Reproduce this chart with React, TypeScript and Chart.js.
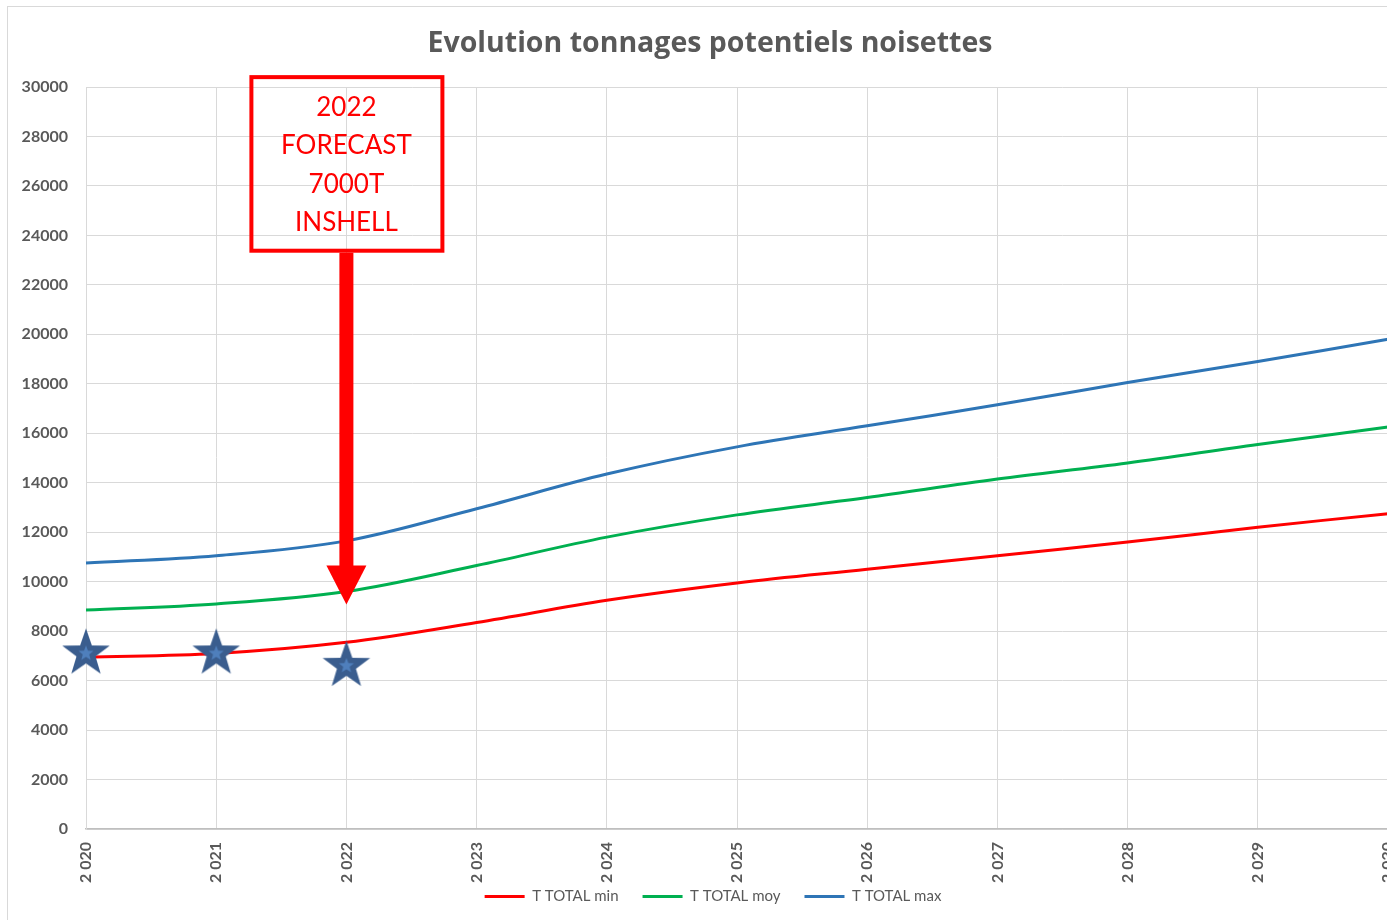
import React, { useEffect, useRef } from 'react';
import { Chart, registerables } from 'chart.js';

Chart.register(...registerables);

const years = ['2020', '2021', '2022', '2023', '2024', '2025', '2026', '2027', '2028', '2029', '2030'];
const totalMin = [6950, 7100, 7550, 8350, 9250, 9950, 10500, 11050, 11600, 12200, 12750];
const totalMoy = [8850, 9100, 9600, 10650, 11800, 12700, 13400, 14150, 14800, 15550, 16250];
const totalMax = [10750, 11050, 11650, 12950, 14350, 15450, 16300, 17150, 18050, 18900, 19800];
const actuals = [7100, 7100, 6600, null, null, null, null, null, null, null, null];
const seriesLabels = ['T TOTAL min', 'T TOTAL moy', 'T TOTAL max'];
const seriesColors = ['#FF0000', '#00B050', '#2E75B6'];
const chartTitle = 'Evolution tonnages potentiels noisettes';
const noteLines = ['2022', 'FORECAST', '7000T', 'INSHELL'];
const noteYear = 2; // index of the annotated category
const noteBoxTop = 30480;
const noteBoxBottom = 23300;
const arrowTip = 9080;

const GRAY = '#595959';

function makeStar(): HTMLCanvasElement {
  const R = 25;
  const size = 2 * R + 4;
  const c = document.createElement('canvas');
  c.width = size;
  c.height = size;
  const ctx = c.getContext('2d')!;
  const cx = size / 2;
  const cy = size / 2;
  const draw = (r: number, ri: number, color: string) => {
    ctx.beginPath();
    for (let i = 0; i < 10; i++) {
      const rad = i % 2 === 0 ? r : ri;
      const a = -Math.PI / 2 + (i * Math.PI) / 5;
      const x = cx + rad * Math.cos(a);
      const y = cy + rad * Math.sin(a);
      if (i === 0) ctx.moveTo(x, y);
      else ctx.lineTo(x, y);
    }
    ctx.closePath();
    ctx.fillStyle = color;
    ctx.fill();
  };
  draw(R, R * 0.4, '#3A5D8E');
  draw(8, 3.4, '#4F7FBC');
  return c;
}

const layoutPlugin = {
  id: 'layoutPlugin',
  afterLayout(chart: any) {
    // widen the label clip areas so rotated / long tick labels are not cut
    chart.scales.y.left = 0;
    chart.scales.x.bottom = chart.scales.x.top + 70;
    if (chart.legend) {
      chart.legend.left += 3;
      chart.legend.right += 3;
      chart.legend.top += 2;
      chart.legend.bottom += 2;
    }
  },
};

const notePlugin = {
  id: 'notePlugin',
  afterDatasetsDraw(chart: any) {
    const { ctx, scales } = chart;
    const x = scales.x.getPixelForValue(noteYear);
    const top = scales.y.getPixelForValue(noteBoxTop);
    const bottom = scales.y.getPixelForValue(noteBoxBottom);
    const tip = scales.y.getPixelForValue(arrowTip);
    ctx.save();
    ctx.strokeStyle = '#FF0000';
    ctx.lineWidth = 4;
    ctx.strokeRect(x - 95, top + 2, 191, bottom - top - 4);
    ctx.fillStyle = '#FF0000';
    ctx.font = '26px Lato';
    ctx.textAlign = 'center';
    ctx.textBaseline = 'middle';
    const mid = (top + bottom) / 2 + 1;
    const step = 38.5;
    noteLines.forEach((t, i) => {
      ctx.fillText(t, x, mid + (i - (noteLines.length - 1) / 2) * step);
    });
    const headH = 39;
    ctx.fillRect(x - 7, bottom, 14, tip - headH - bottom + 1);
    ctx.beginPath();
    ctx.moveTo(x - 20, tip - headH);
    ctx.lineTo(x + 20, tip - headH);
    ctx.lineTo(x, tip);
    ctx.closePath();
    ctx.fill();
    ctx.restore();
  },
};

export default function App() {
  const ref = useRef<HTMLCanvasElement | null>(null);

  useEffect(() => {
    if (!ref.current) return;
    const star = makeStar();
    const lineSeries = [totalMin, totalMoy, totalMax].map((d, i) => ({
      label: seriesLabels[i],
      data: d,
      borderColor: seriesColors[i],
      backgroundColor: seriesColors[i],
      borderWidth: 3,
      pointRadius: 0,
      tension: 0.35,
      fill: false,
      order: 1,
    }));
    const chart = new Chart(ref.current, {
      type: 'line',
      data: {
        labels: years,
        datasets: [
          ...lineSeries,
          {
            label: 'Réel',
            data: actuals,
            showLine: false,
            pointStyle: star as any,
            pointRadius: 25,
            borderColor: '#3A5D8E',
            backgroundColor: '#3A5D8E',
            order: 0,
          } as any,
        ],
      },
      options: {
        animation: false,
        responsive: false,
        devicePixelRatio: 1,
        layout: { autoPadding: false, padding: { left: 24, right: 12, top: 0, bottom: 15 } },
        plugins: {
          title: {
            display: true,
            text: chartTitle,
            color: GRAY,
            font: { family: 'Open Sans', size: 28.5, weight: 'bold' },
            padding: { top: 20, bottom: 25.8 },
          },
          legend: {
            position: 'bottom',
            labels: {
              color: GRAY,
              font: { family: 'Lato', size: 15 },
              boxWidth: 40,
              boxHeight: 3,
              padding: 24,
              filter: (item: any) => item.datasetIndex < 3,
              generateLabels: (c: any) =>
                Chart.defaults.plugins.legend.labels.generateLabels(c).map((l: any) => ({
                  ...l,
                  lineWidth: 0,
                  fillStyle: seriesColors[l.datasetIndex] || l.fillStyle,
                })),
            },
          },
          tooltip: { enabled: false },
        },
        scales: {
          x: {
            offset: false,
            grid: { color: '#D9D9D9', drawTicks: false, lineWidth: 1 },
            border: { color: '#BFBFBF', width: 1.5 },
            ticks: {
              color: GRAY,
              font: { family: 'Lato', size: 16, weight: 'bold' },
              minRotation: 90,
              maxRotation: 90,
              padding: 13,
              autoSkip: false,
              callback: (_v: any, i: number) => `${years[i][0]} ${years[i].slice(1)}`,
            },
            afterFit: (s: any) => {
              s.height = 34;
              s.paddingLeft = 0;
              s.paddingRight = 0;
            },
          },
          y: {
            min: 0,
            max: 30000,
            grid: { color: '#D9D9D9', drawTicks: false, lineWidth: 1 },
            border: { color: '#D9D9D9' },
            ticks: {
              stepSize: 2000,
              color: GRAY,
              font: { family: 'Lato', size: 16, weight: 'bold' },
              padding: 18,
              callback: (v: any) => String(v),
            },
            afterFit: (s: any) => {
              s.width = 54;
            },
          },
        },
      },
      plugins: [layoutPlugin, notePlugin],
    });
    return () => chart.destroy();
  }, []);

  return (
    <div
      style={{
        position: 'absolute',
        left: 0,
        top: 0,
        width: 1387,
        height: 920,
        overflow: 'hidden',
        background: '#fff',
      }}
    >
      <div
        style={{
          position: 'absolute',
          left: 7,
          top: 6,
          width: 1392,
          height: 920,
          border: '1px solid #D9D9D9',
        }}
      >
        <canvas ref={ref} width={1392} height={920} style={{ display: 'block' }} />
      </div>
    </div>
  );
}
